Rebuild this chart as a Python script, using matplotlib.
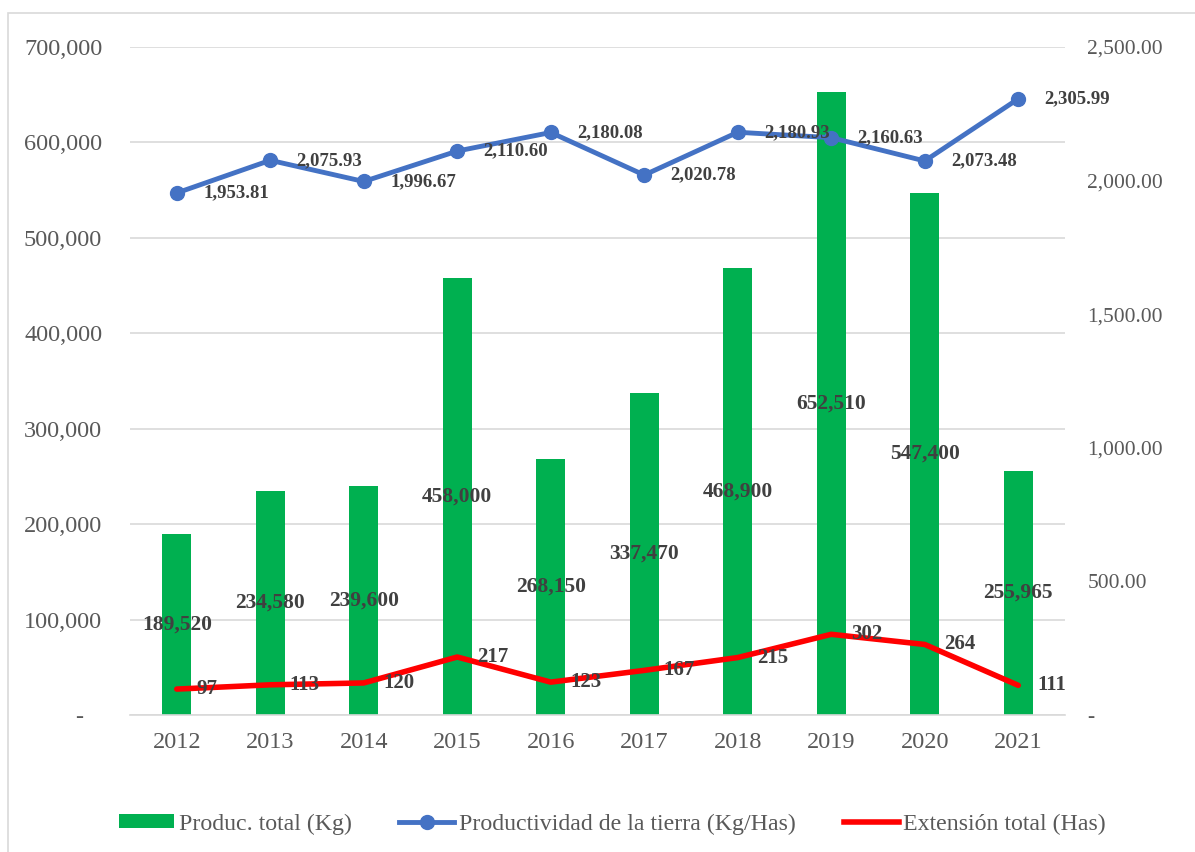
import matplotlib.pyplot as plt
from matplotlib.lines import Line2D
from matplotlib.patches import Patch, Rectangle
from matplotlib.ticker import FuncFormatter

plt.rcParams['font.family'] = ['Liberation Serif', 'DejaVu Serif']

years = ['2012', '2013', '2014', '2015', '2016', '2017', '2018', '2019', '2020', '2021']
produccion = [189520, 234580, 239600, 458000, 268150, 337470, 468900, 652510, 547400, 255965]
productividad = [1953.81, 2075.93, 1996.67, 2110.60, 2180.08, 2020.78, 2180.93, 2160.63, 2073.48, 2305.99]
extension = [97, 113, 120, 217, 123, 167, 215, 302, 264, 111]

GREEN = '#00B050'
BLUE = '#4472C4'
RED = '#FF0000'
GRID = '#D9D9D9'
TICK = '#595959'
LABEL = '#404040'

W, H = 1195, 852
fig = plt.figure(figsize=(W / 100, H / 100), dpi=100)

# chart frame (left and top edges visible)
fig.patches.append(Rectangle((8 / W, -0.1), 1.2, 1 - 13 / H + 0.1, transform=fig.transFigure,
                             fill=False, edgecolor=GRID, linewidth=1.2, zorder=0))

ax = fig.add_axes([130 / W, (H - 715) / H, 935 / W, 668 / H])
ax2 = ax.twinx()

x = list(range(len(years)))
ax.bar(x, produccion, width=0.31, color=GREEN, zorder=2)
ax.set_xlim(-0.5, len(years) - 0.5)
ax.set_ylim(0, 700000)
ax.set_yticks(range(0, 700001, 100000))
ax.yaxis.set_major_formatter(FuncFormatter(lambda v, p: '-   ' if v == 0 else f'{v:,.0f}'))
ax.grid(axis='y', color=GRID, linewidth=1.2, zorder=0)
ax.set_axisbelow(True)
ax.set_xticks(x)
ax.set_xticklabels(years)
ax.tick_params(axis='both', length=0, colors=TICK, labelsize=17.5)
ax.tick_params(axis='x', pad=12)
ax.tick_params(axis='y', pad=20)
for s in ['top', 'right', 'left']:
    ax.spines[s].set_visible(False)
ax.spines['bottom'].set_color(GRID)
ax.spines['bottom'].set_linewidth(1.2)

for xi, v in zip(x, produccion):
    ax.text(xi, v / 2, f'{v:,}', ha='center', va='center', fontsize=15.5,
            fontweight='bold', color=LABEL, zorder=5)

ax2.plot(x, productividad, color=BLUE, linewidth=3.5, marker='o', markersize=10, zorder=3)
ax2.plot(x, extension, color=RED, linewidth=4, solid_capstyle='round', zorder=3)
ax2.set_ylim(0, 2500)
ax2.set_yticks(range(0, 2501, 500))
ax2.yaxis.set_major_formatter(FuncFormatter(lambda v, p: '-' if v == 0 else f'{v:,.2f}'))
ax2.tick_params(axis='y', length=0, colors=TICK, labelsize=15.5, pad=16)
for s in ax2.spines.values():
    s.set_visible(False)

for xi, v in zip(x, productividad):
    ax2.annotate(f'{v:,.2f}', (xi, v), xytext=(19, 0), textcoords='offset points',
                 ha='left', va='center', fontsize=13.5, fontweight='bold', color=LABEL, zorder=5)
for xi, v in zip(x, extension):
    ax2.annotate(f'{v}', (xi, v), xytext=(14, 0), textcoords='offset points',
                 ha='left', va='center', fontsize=15, fontweight='bold', color=LABEL, zorder=5)

handles = [
    Patch(facecolor=GREEN, edgecolor='none'),
    Line2D([], [], color=BLUE, linewidth=3.5, marker='o', markersize=10),
    Line2D([], [], color=RED, linewidth=4),
]
labels = ['Produc. total (Kg)', 'Productividad de la tierra (Kg/Has)', 'Extensión total (Has)']
fig.legend(handles, labels, loc='center', bbox_to_anchor=(0.5 + 15 / W, 1 - 824 / H), ncol=3,
           frameon=False, fontsize=17.2, handlelength=2.3, handleheight=0.5, handletextpad=0.2,
           columnspacing=2.0, labelcolor=TICK)

fig.savefig('out.png', dpi=100)
